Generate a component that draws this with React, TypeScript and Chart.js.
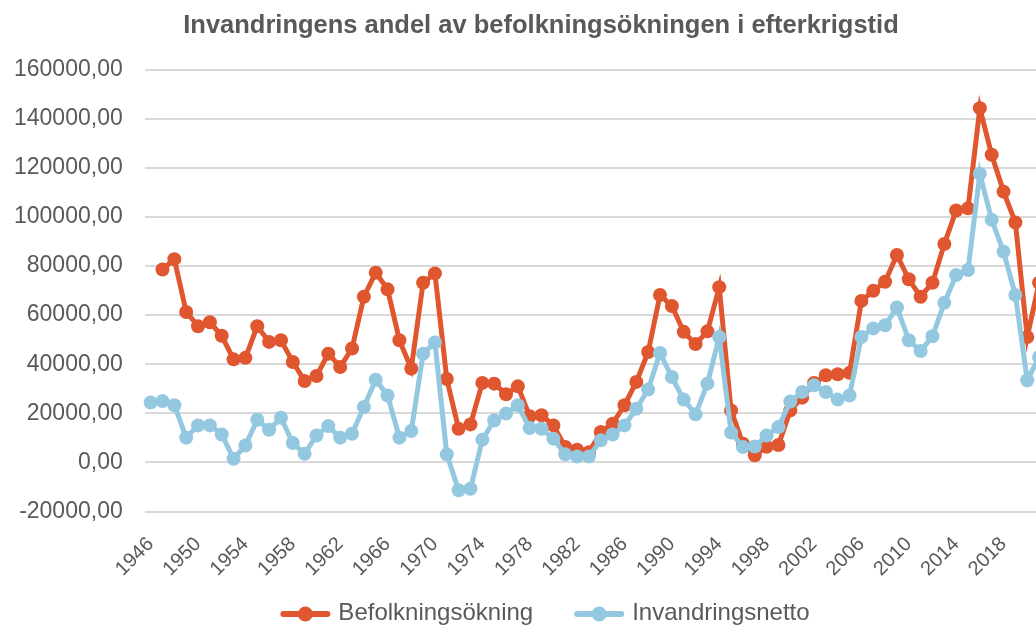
import React, { useEffect, useRef } from "react";
import { Chart, registerables } from "chart.js";

Chart.register(...registerables);

const years: string[] = [
  "1946", "1947", "1948", "1949", "1950", "1951", "1952", "1953", "1954", "1955",
  "1956", "1957", "1958", "1959", "1960", "1961", "1962", "1963", "1964", "1965",
  "1966", "1967", "1968", "1969", "1970", "1971", "1972", "1973", "1974", "1975",
  "1976", "1977", "1978", "1979", "1980", "1981", "1982", "1983", "1984", "1985",
  "1986", "1987", "1988", "1989", "1990", "1991", "1992", "1993", "1994", "1995",
  "1996", "1997", "1998", "1999", "2000", "2001", "2002", "2003", "2004", "2005",
  "2006", "2007", "2008", "2009", "2010", "2011", "2012", "2013", "2014", "2015",
  "2016", "2017", "2018", "2019", "2020", "2021",
];

const befolkningsokning: (number | null)[] = [
  null, 78600, 82800, 61300, 55500, 57100, 51600, 42000, 42600, 55500,
  49100, 49800, 40900, 33200, 35200, 44300, 38900, 46400, 67500, 77300,
  70500, 49800, 38200, 73200, 77000, 34000, 13700, 15500, 32400, 32100,
  27800, 31000, 18800, 19200, 15100, 6300, 5200, 4200, 12400, 15800,
  23300, 32800, 45000, 68200, 63700, 53200, 48200, 53400, 71400, 21200,
  7600, 2900, 6400, 7100, 21200, 26400, 32400, 35500, 35900, 36500,
  65800, 69900, 73600, 84500, 74600, 67500, 73200, 89000, 102600, 103500,
  144300, 125300, 110300, 97700, 51100, 73200,
];

const invandringsnetto: number[] = [
  24400, 25000, 23300, 10100, 15100, 15100, 11400, 1500, 6900, 17400,
  13300, 18200, 7900, 3500, 11000, 14800, 10100, 11700, 22600, 33700,
  27300, 10100, 12800, 44300, 48900, 3300, -11300, -10700, 9300, 17100,
  19900, 23300, 14000, 13700, 9700, 3300, 2400, 2400, 9000, 11400,
  15100, 21900, 29700, 44600, 34800, 25600, 19600, 32100, 51100, 12200,
  6300, 6500, 11000, 14400, 24800, 28700, 31400, 28700, 25600, 27300,
  51100, 54600, 55900, 63100, 49800, 45400, 51400, 65000, 76300, 78400,
  117600, 98800, 85800, 68200, 33500, 43000,
];

const seriesNames = ["Befolkningsökning", "Invandringsnetto"];
const titleText = "Invandringens andel av befolkningsökningen i efterkrigstid";
const yMin = -20000;
const yMax = 160000;
const yStep = 20000;
const xLabelEvery = 4;

const RED = "#E0562F";
const BLUE = "#93C8E0";
const TEXT = "#595959";
const GRID = "#D9D9D9";
const FONT = '"Liberation Sans", Arial, sans-serif';

const CANVAS_W = 1090;
const CANVAS_H = 628;
const PLOT_RIGHT_GAP = 45;

const legendPlugin = {
  id: "customLegend",
  afterDraw(chart: any) {
    const ctx = chart.ctx as CanvasRenderingContext2D;
    const items = chart.data.datasets.map((ds: any) => ({
      text: ds.label as string,
      color: ds.borderColor as string,
    }));
    ctx.save();
    ctx.font = `24px ${FONT}`;
    const markerW = 50;
    const gapText = 8;
    const gapItems = 41;
    const widths = items.map(
      (it: any) => markerW + gapText + ctx.measureText(it.text).width
    );
    const total =
      widths.reduce((a: number, b: number) => a + b, 0) +
      gapItems * (items.length - 1);
    let x = chart.width / 2 - total / 2;
    const y = chart.height - 14;
    items.forEach((it: any, i: number) => {
      ctx.strokeStyle = it.color;
      ctx.fillStyle = it.color;
      ctx.lineWidth = 6;
      ctx.lineCap = "round";
      ctx.beginPath();
      ctx.moveTo(x + 3, y);
      ctx.lineTo(x + markerW - 3, y);
      ctx.stroke();
      ctx.beginPath();
      ctx.arc(x + markerW / 2, y, 7.5, 0, Math.PI * 2);
      ctx.fill();
      ctx.fillStyle = TEXT;
      ctx.textAlign = "left";
      ctx.textBaseline = "middle";
      ctx.fillText(it.text, x + markerW + gapText, y - 1);
      x += widths[i] + gapItems;
    });
    ctx.restore();
  },
};

export default function App() {
  const canvasRef = useRef<HTMLCanvasElement | null>(null);

  useEffect(() => {
    if (!canvasRef.current) return;
    const chart = new Chart(canvasRef.current, {
      type: "line",
      data: {
        labels: years,
        datasets: [
          {
            label: seriesNames[0],
            data: befolkningsokning,
            borderColor: RED,
            backgroundColor: RED,
            borderWidth: 5,
            pointRadius: 7,
            pointBackgroundColor: RED,
            pointBorderColor: RED,
            pointBorderWidth: 0,
            tension: 0,
            order: 1,
          },
          {
            label: seriesNames[1],
            data: invandringsnetto,
            borderColor: BLUE,
            backgroundColor: BLUE,
            borderWidth: 5,
            pointRadius: 7,
            pointBackgroundColor: BLUE,
            pointBorderColor: BLUE,
            pointBorderWidth: 0,
            tension: 0,
            order: 0,
          },
        ],
      },
      options: {
        responsive: false,
        animation: false,
        devicePixelRatio: 1,
        layout: { padding: { left: -8, right: 0, top: 0, bottom: 26 } },
        plugins: {
          legend: { display: false },
          tooltip: { enabled: false },
          title: {
            display: true,
            text: titleText,
            color: TEXT,
            font: { family: FONT, size: 25.5, weight: "bold" },
            padding: { top: 11, bottom: 28 },
          },
        },
        scales: {
          x: {
            type: "category",
            offset: true,
            grid: { display: false, drawTicks: false },
            border: { display: false },
            afterFit: (scale: any) => {
              scale.paddingLeft = 0;
              scale.paddingRight = PLOT_RIGHT_GAP;
            },
            ticks: {
              autoSkip: false,
              minRotation: 45,
              maxRotation: 45,
              padding: 21,
              color: TEXT,
              font: { family: FONT, size: 20 },
              callback: (_v: any, i: number) =>
                i % xLabelEvery === 0 ? years[i] : "",
            },
          },
          y: {
            min: yMin,
            max: yMax,
            grid: { color: GRID, lineWidth: 2, drawTicks: false },
            border: { display: false },
            ticks: {
              stepSize: yStep,
              padding: 22,
              color: TEXT,
              font: { family: FONT, size: 23 },
              callback: (v: any) => Number(v).toFixed(2).replace(".", ","),
            },
          },
        },
      },
      plugins: [legendPlugin],
    } as any);
    return () => chart.destroy();
  }, []);

  return (
    <div
      style={{
        position: "fixed",
        left: 0,
        top: 0,
        width: 1036,
        height: 628,
        overflow: "hidden",
        background: "#fff",
      }}
    >
      <canvas
        ref={canvasRef}
        width={CANVAS_W}
        height={CANVAS_H}
        style={{ display: "block", width: CANVAS_W, height: CANVAS_H }}
      />
    </div>
  );
}
